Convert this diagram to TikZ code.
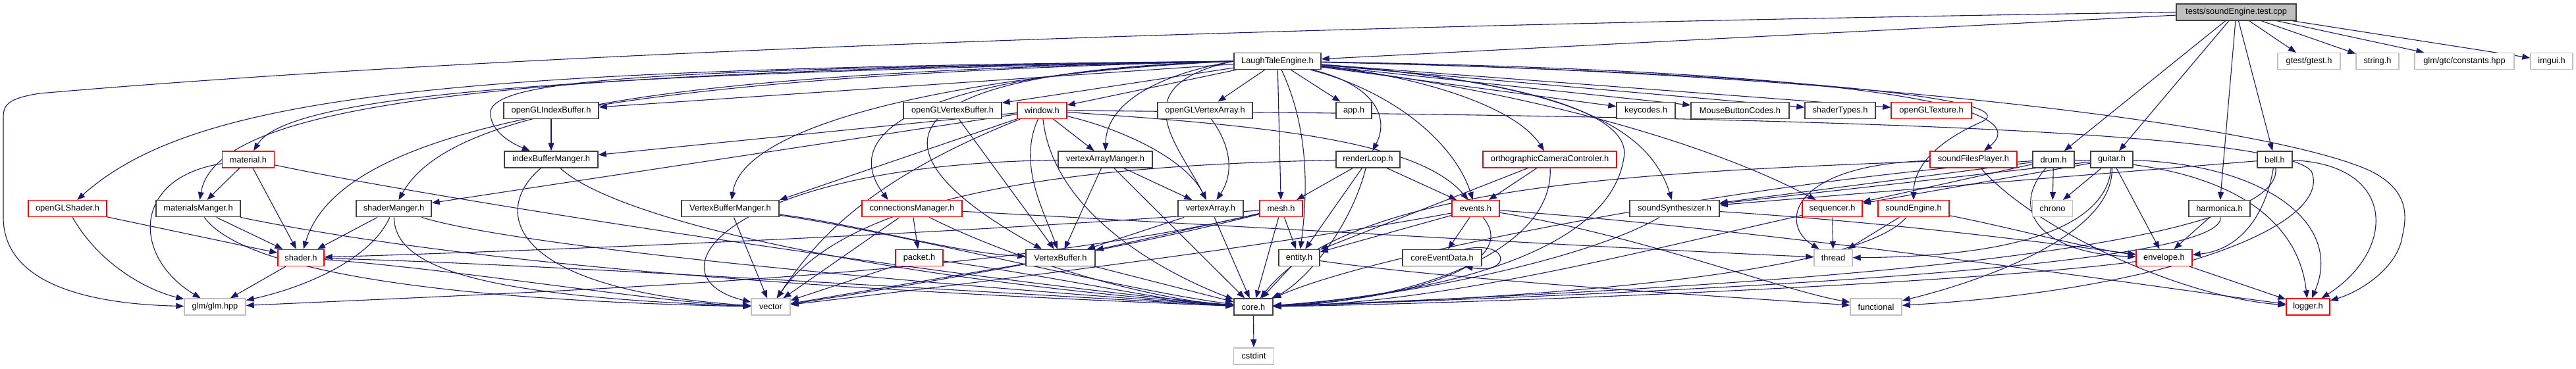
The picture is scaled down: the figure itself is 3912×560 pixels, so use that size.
\documentclass[tikz,border=0pt]{standalone}
\usepackage{fontspec}
\setmainfont{Liberation Sans}
\usetikzlibrary{arrows.meta}
\definecolor{edgec}{HTML}{191970}
\definecolor{gdark}{HTML}{404040}
\definecolor{glight}{HTML}{BFBFBF}
\definecolor{rootfill}{HTML}{BFBFBF}
\pgfdeclarelayer{backlayer}
\pgfdeclarelayer{edgelayer}
\pgfsetlayers{backlayer,edgelayer,main}
\newcommand\gnode[6]{\node[#1,minimum width=#5pt] (#2) at (#3,#4) {#6};}
\begin{document}
\begin{tikzpicture}[x=1pt,y=-1pt,
  font=\fontsize{12.8}{15}\selectfont,
  base/.style={fill=white,line width=1.4pt,minimum height=25pt,inner sep=0pt,text=black},
  nb/.style={base,draw=gdark},
  nr/.style={base,draw=red},
  ng/.style={base,draw=glight},
  nroot/.style={base,draw=gdark,fill=rootfill},
  e/.style={draw=edgec,line width=1.1pt,-{Triangle[length=12pt,width=9pt]}}]
\begin{pgfonlayer}{backlayer}
\fill[white] (0,0) rectangle (3912,560);
\end{pgfonlayer}
\useasboundingbox (0,0) rectangle (3912,560);
% row 1
\gnode{nroot}{root}{3396}{18.4}{182}{tests/soundEngine.test.cpp}
% row 2
\gnode{nb}{lte}{1940}{93.1}{132}{LaughTaleEngine.h}
\gnode{ng}{gtest}{3506.5}{93.1}{95}{gtest/gtest.h}
\gnode{ng}{stringh}{3610.5}{93.1}{65}{string.h}
\gnode{ng}{gtc}{3742.5}{93.1}{151}{glm/gtc/constants.hpp}
\gnode{ng}{imgui}{3875}{93.1}{64}{imgui.h}
% row 3
\gnode{nb}{oglib}{837}{167.8}{144}{openGLIndexBuffer.h}
\gnode{nb}{oglvb}{1446.5}{167.8}{149}{openGLVertexBuffer.h}
\gnode{nr}{window}{1582.5}{167.8}{75}{window.h}
\gnode{nb}{oglva}{1830}{167.8}{144}{openGLVertexArray.h}
\gnode{nb}{app}{2056}{167.8}{54}{app.h}
\gnode{nb}{keycodes}{2499.5}{167.8}{89}{keycodes.h}
\gnode{nb}{mouse}{2642.5}{167.8}{149}{MouseButtonCodes.h}
\gnode{nb}{shtypes}{2794.5}{167.8}{107}{shaderTypes.h}
\gnode{nr}{ogltex}{2933}{167.8}{122}{openGLTexture.h}
% row 4
\gnode{nr}{material}{377}{242.5}{79}{material.h}
\gnode{nb}{ibm}{837}{242.5}{142}{indexBufferManger.h}
\gnode{nb}{vam}{1678.5}{242.5}{143}{vertexArrayManger.h}
\gnode{nb}{rloop}{2077.5}{242.5}{97}{renderLoop.h}
\gnode{nr}{ortho}{2353.5}{242.5}{203}{orthographicCameraControler.h}
\gnode{nr}{sfp}{2997}{242.5}{132}{soundFilesPlayer.h}
\gnode{nb}{drum}{3118.5}{242.5}{63}{drum.h}
\gnode{nb}{guitar}{3207}{242.5}{64}{guitar.h}
\gnode{nb}{bell}{3454.5}{242.5}{53}{bell.h}
% row 5
\gnode{nr}{oglsh}{102.5}{317.2}{119}{openGLShader.h}
\gnode{nb}{matmgr}{301}{317.2}{128}{materialsManger.h}
\gnode{nb}{shmgr}{598}{317.2}{114}{shaderManger.h}
\gnode{nb}{vbm}{1109}{317.2}{148}{VertexBufferManger.h}
\gnode{nr}{conn}{1385}{317.2}{152}{connectionsManager.h}
\gnode{nb}{va}{1838.5}{317.2}{99}{vertexArray.h}
\gnode{nr}{mesh}{1945.5}{317.2}{65}{mesh.h}
\gnode{nr}{events}{2241}{317.2}{72}{events.h}
\gnode{nb}{synth}{2543}{317.2}{136}{soundSynthesizer.h}
\gnode{nr}{seq}{2782.5}{317.2}{91}{sequencer.h}
\gnode{nr}{se}{2906}{317.2}{108}{soundEngine.h}
\gnode{ng}{chrono}{3117}{317.2}{61}{chrono}
\gnode{nb}{harm}{3370.5}{317.2}{93}{harmonica.h}
% row 6
\gnode{nr}{shader}{457}{391.9}{70}{shader.h}
\gnode{nr}{packet}{1396}{391.9}{72}{packet.h}
\gnode{nb}{vb}{1610.5}{391.9}{105}{VertexBuffer.h}
\gnode{nb}{entity}{1973}{391.9}{62}{entity.h}
\gnode{nb}{ced}{2190}{391.9}{120}{coreEventData.h}
\gnode{ng}{thread}{2784}{391.9}{58}{thread}
\gnode{nr}{env}{3286.5}{391.9}{85}{envelope.h}
% row 7
\gnode{ng}{glm}{326.5}{466.6}{93}{glm/glm.hpp}
\gnode{ng}{vector}{1170.5}{466.6}{59}{vector}
\gnode{nb}{core}{1903.5}{466.6}{59}{core.h}
\gnode{ng}{functional}{2849}{466.6}{78}{functional}
\gnode{nr}{logger}{3505}{466.6}{66}{logger.h}
% row 8
\gnode{ng}{cstdint}{1904}{541.3}{61}{cstdint}

\begin{pgfonlayer}{edgelayer}
% ---- root
\draw[e] (root) -- (lte);
\draw[e] (root.west) .. controls (2000,38) and (800,78) .. (60,142) .. controls (10,150) and (5,160) .. (5,180) -- (5,330) .. controls (5,430) and (130,462) .. (glm);
\draw[e] (root) -- (drum);
\draw[e] (root) -- (guitar);
\draw[e] (root) -- (harm);
\draw[e] (root) -- (bell);
\draw[e] (root) -- (gtest);
\draw[e] (root) -- (stringh);
\draw[e] (root) -- (gtc);
\draw[e] (root) -- (imgui);

% ---- LaughTaleEngine.h
\draw[e] (lte) -- (oglib);
\draw[e] (lte.west) .. controls (1000,105) and (760,120) .. (745,168) .. controls (742,195) and (770,215) .. (ibm);
\draw[e] (lte) -- (oglvb);
\draw[e] (lte) -- (window);
\draw[e] (lte.west) .. controls (900,112) and (440,140) .. (material);
\draw[e] (lte.west) .. controls (800,108) and (330,150) .. (matmgr);
\draw[e] (lte.west) .. controls (700,104) and (300,140) .. (oglsh);
\draw[e] (lte.west) .. controls (1000,110) and (680,170) .. (shmgr);
\draw[e] (lte.west) .. controls (1000,115) and (520,180) .. (shader);
\draw[e] (lte.west) .. controls (1500,110) and (1130,180) .. (vbm);
\draw[e] (lte.west) .. controls (1400,110) and (1270,200) .. (conn.160);
\draw[e] (lte.west) .. controls (1300,110) and (1330,240) .. (vb.155);
\draw[e] (lte.west) .. controls (1750,115) and (1680,160) .. (vam);
\draw[e] (lte.west) .. controls (1700,130) and (1790,220) .. (va);
\draw[e] (lte) -- (oglva);
\draw[e] (lte) -- (mesh);
\draw[e] (lte) .. controls (1990,200) and (1985,300) .. (entity);
\draw[e] (lte) -- (app);
\draw[e] (lte) .. controls (2090,130) and (2110,180) .. (rloop);
\draw[e] (lte) .. controls (2120,140) and (2210,220) .. (events);
\draw[e] (lte) .. controls (2150,115) and (2300,160) .. (ortho);
\draw[e] (lte) -- (keycodes);
\draw[e] (lte) -- (mouse);
\draw[e] (lte) -- (shtypes);
\draw[e] (lte) -- (ogltex);
\draw[e] (lte) .. controls (2350,125) and (2500,180) .. (synth);
\draw[e] (lte) .. controls (2330,140) and (2600,220) .. (seq);
\draw[e] (lte) .. controls (2700,110) and (3080,150) .. (3010,185) .. controls (2930,220) and (2906,260) .. (se);
\draw[e] (lte) .. controls (2700,105) and (3110,150) .. (sfp);
\draw[e] (lte) .. controls (2800,110) and (3450,190) .. (3600,260) .. controls (3660,290) and (3655,330) .. (3648,360) .. controls (3640,410) and (3580,445) .. (logger);
\draw[e] (lte) .. controls (2300,120) and (2480,170) .. (2466,240) .. controls (2445,380) and (2200,445) .. (core);

% ---- window.h
\draw[e] (window) -- (ibm);
\draw[e] (window) -- (shmgr);
\draw[e] (window) -- (vbm.north east);
\draw[e] (window) .. controls (1300,280) and (1230,380) .. (vector);
\draw[e] (window) .. controls (1545,250) and (1585,320) .. (vb);
\draw[e] (window) .. controls (1600,330) and (1780,420) .. (core);
\draw[e] (window) -- (vam);
\draw[e] (window) .. controls (1700,195) and (1800,240) .. (va);
\draw[e] (window) .. controls (1900,190) and (2150,210) .. (events);
\draw[e] (window) .. controls (2500,175) and (3450,190) .. (3510,260) .. controls (3545,340) and (3300,440) .. (functional);

% ---- openGL*
\draw[e] (oglib) -- (ibm);
\draw[e] (oglvb) -- (vb);
\draw[e] (oglva) .. controls (1875,230) and (1870,270) .. (va);

% ---- indexBufferManger
\draw[e] (ibm) .. controls (745,320) and (770,440) .. (vector);
\draw[e] (ibm) .. controls (930,330) and (1300,420) .. (core);

% ---- material
\draw[e] (material) .. controls (200,270) and (200,390) .. (glm);
\draw[e] (material) -- (matmgr);
\draw[e] (material) -- (shader);
\draw[e] (material) .. controls (700,310) and (1500,430) .. (core);

% ---- openGLShader
\draw[e] (oglsh) -- (shader);
\draw[e] (oglsh) .. controls (150,400) and (220,440) .. (glm);

% ---- materialsManger
\draw[e] (matmgr) -- (shader);
\draw[e] (matmgr) .. controls (360,400) and (600,455) .. (vector);
\draw[e] (matmgr) .. controls (800,420) and (1500,450) .. (core);

% ---- shaderManger
\draw[e] (shmgr) -- (shader);
\draw[e] (shmgr) .. controls (560,400) and (450,440) .. (glm);
\draw[e] (shmgr) .. controls (600,400) and (700,450) .. (vector);
\draw[e] (shmgr) .. controls (800,380) and (1500,440) .. (core);

% ---- shader
\draw[e] (shader) -- (glm);
\draw[e] (shader) .. controls (700,410) and (1000,460) .. (vector);
\draw[e] (shader) .. controls (800,400) and (1500,445) .. (core);

% ---- VertexBufferManger
\draw[e] (vbm) -- (vector);
\draw[e] (vbm) .. controls (1300,340) and (1450,385) .. (vb);
\draw[e] (vbm) .. controls (1350,350) and (1700,440) .. (core);

% ---- vertexArrayManger
\draw[e] (vam) -- (vb);
\draw[e] (vam) -- (va);
\draw[e] (vam) -- (core);
\draw[e] (vam) .. controls (1100,250) and (980,420) .. (vector);

% ---- vertexArray
\draw[e] (va) -- (vb);
\draw[e] (va) -- (core);

% ---- connectionsManager
\draw[e] (conn) -- (packet);
\draw[e] (conn) -- (vector);
\draw[e] (conn) .. controls (1550,400) and (1750,455) .. (core);
\draw[e] (conn) .. controls (1900,345) and (2500,380) .. (thread);

% ---- packet
\draw[e] (packet) -- (vector);
\draw[e] (packet) .. controls (1600,420) and (1780,460) .. (core);

% ---- VertexBuffer
\draw[e] (vb) -- (vector);
\draw[e] (vb) -- (core);

% ---- mesh
\draw[e] (mesh) -- (vb);
\draw[e] (mesh) -- (entity);
\draw[e] (mesh) -- (core);
\draw[e] (mesh) .. controls (1700,380) and (1350,440) .. (vector);
\draw[e] (mesh) .. controls (1400,360) and (700,385) .. (shader);
\draw[e] (mesh) .. controls (1500,420) and (900,440) .. (glm);

% ---- renderLoop
\draw[e] (rloop) -- (mesh);
\draw[e] (rloop) -- (entity);
\draw[e] (rloop) .. controls (2050,350) and (1980,430) .. (core);
\draw[e] (rloop) -- (events);
\draw[e] (rloop) .. controls (1700,250) and (1300,280) .. (vector);

% ---- events
\draw[e] (events) -- (entity);
\draw[e] (events) -- (ced);
\draw[e] (events) .. controls (2310,400) and (2150,455) .. (core);
\draw[e] (events) .. controls (1900,380) and (1400,440) .. (vector);
\draw[e] (events) .. controls (2500,360) and (2700,440) .. (functional);
\draw[e] (events) .. controls (2700,350) and (3300,440) .. (logger);

% ---- orthographicCameraControler
\draw[e] (ortho) -- (events);
\draw[e] (ortho) -- (entity);
\draw[e] (ortho) .. controls (2360,380) and (2150,458) .. (core);

% ---- coreEventData (self)
\draw[e] (ced.21) .. controls (2295,365) and (2295,418) .. (ced.-21);

% ---- entity
\draw[e] (entity) -- (core);
\draw[e] (entity) .. controls (2200,425) and (2600,450) .. (functional);

% ---- soundSynthesizer
\draw[e] (synth) .. controls (2400,400) and (2100,455) .. (core);
\draw[e] (synth) .. controls (2900,340) and (3150,375) .. (env);

% ---- sequencer
\draw[e] (seq) -- (thread);
\draw[e] (seq) .. controls (2500,380) and (2200,460) .. (core);

% ---- soundEngine
\draw[e] (se) -- (thread);
\draw[e] (se) .. controls (2820,420) and (2300,455) .. (core);
\draw[e] (se) .. controls (3050,345) and (3180,380) .. (env);

% ---- soundFilesPlayer
\draw[e] (sfp) .. controls (2720,250) and (2700,340) .. (thread);
\draw[e] (sfp) .. controls (3080,340) and (3300,450) .. (logger);
\draw[e] (sfp) .. controls (2500,262) and (2050,280) .. (core);

% ---- drum
\draw[e] (drum) -- (chrono);
\draw[e] (drum) -- (synth);
\draw[e] (drum) -- (seq);
\draw[e] (drum) .. controls (3050,320) and (3100,385) .. (env);
\draw[e] (drum) .. controls (3380,250) and (3490,330) .. (logger);
\draw[e] (drum) .. controls (2700,270) and (2100,380) .. (core);

% ---- guitar
\draw[e] (guitar) -- (chrono);
\draw[e] (guitar) -- (synth);
\draw[e] (guitar) -- (seq);
\draw[e] (guitar) .. controls (3200,330) and (3100,390) .. (thread);
\draw[e] (guitar) -- (env);
\draw[e] (guitar) .. controls (3440,250) and (3560,340) .. (logger);
\draw[e] (guitar) .. controls (3210,360) and (3000,430) .. (functional);

% ---- bell
\draw[e] (bell) -- (synth);
\draw[e] (bell) .. controls (3440,330) and (3400,380) .. (env);
\draw[e] (bell) .. controls (3470,390) and (2600,440) .. (core);
\draw[e] (bell) .. controls (3640,250) and (3640,380) .. (logger);

% ---- harmonica
\draw[e] (harm) -- (env);
\draw[e] (harm) .. controls (3380,400) and (2700,440) .. (core);

% ---- envelope
\draw[e] (env) -- (logger);
\draw[e] (env) .. controls (3000,430) and (2300,460) .. (core);

% ---- core
\draw[e] (core) -- (cstdint);
\end{pgfonlayer}
\end{tikzpicture}
\end{document}
